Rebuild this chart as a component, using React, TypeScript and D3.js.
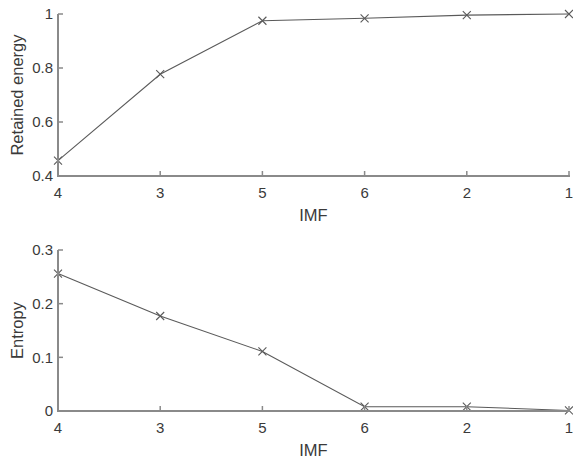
import React from "react";
import * as d3 from "d3";

const imfLabels = ["4", "3", "5", "6", "2", "1"];
const retainedEnergy = [0.457, 0.777, 0.975, 0.984, 0.996, 1.0];
const entropy = [0.256, 0.177, 0.111, 0.008, 0.008, 0.001];
const energyTicks = [0.4, 0.6, 0.8, 1];
const entropyTicks = [0, 0.1, 0.2, 0.3];

const W = 573;
const H = 461;
const FONT = "'Liberation Sans', Arial, Helvetica, sans-serif";
const AXIS = "#8a8a8a";
const TEXT = "#3a3a3a";
const LINE = "#5a5a5a";

type PanelProps = {
  values: number[];
  ticks: number[];
  domain: [number, number];
  top: number;
  bottom: number;
  ylabel: string;
  fmt: (v: number) => string;
};

function Panel({ values, ticks, domain, top, bottom, ylabel, fmt }: PanelProps) {
  const left = 58;
  const right = 569;
  const x = d3.scalePoint<string>().domain(imfLabels).range([left, right]);
  const y = d3.scaleLinear().domain(domain).range([bottom, top]);
  const line = d3
    .line<number>()
    .x((_, i) => x(imfLabels[i]) as number)
    .y((d) => y(d));
  const tl = 5;
  const m = 4;
  return (
    <g>
      <path d={line(values) || ""} fill="none" stroke={LINE} strokeWidth={1.1} />
      {values.map((v, i) => {
        const cx = x(imfLabels[i]) as number;
        const cy = y(v);
        return (
          <path
            key={i}
            d={`M${cx - m},${cy - m}L${cx + m},${cy + m}M${cx - m},${cy + m}L${cx + m},${cy - m}`}
            stroke={LINE}
            strokeWidth={1.1}
          />
        );
      })}
      <line x1={left} x2={left} y1={top} y2={bottom + 1} stroke={AXIS} strokeWidth={2} />
      <line x1={left - 1} x2={right + 1} y1={bottom} y2={bottom} stroke={AXIS} strokeWidth={2} />
      {ticks.map((t) => (
        <g key={t}>
          <line x1={left} x2={left + tl} y1={y(t)} y2={y(t)} stroke={AXIS} strokeWidth={1.5} />
          <text
            x={left - 5}
            y={y(t)}
            dy="0.35em"
            textAnchor="end"
            fontSize={15}
            fontFamily={FONT}
            fill={TEXT}
          >
            {fmt(t)}
          </text>
        </g>
      ))}
      {imfLabels.map((l) => (
        <g key={l}>
          <line
            x1={x(l) as number}
            x2={x(l) as number}
            y1={bottom}
            y2={bottom - tl}
            stroke={AXIS}
            strokeWidth={1.5}
          />
          <text
            x={x(l) as number}
            y={bottom + 22}
            textAnchor="middle"
            fontSize={15}
            fontFamily={FONT}
            fill={TEXT}
          >
            {l}
          </text>
        </g>
      ))}
      <text
        x={(left + right) / 2}
        y={bottom + 45}
        textAnchor="middle"
        fontSize={16.5}
        fontFamily={FONT}
        fill={TEXT}
      >
        IMF
      </text>
      <text
        transform={`translate(${23},${(top + bottom) / 2}) rotate(-90)`}
        textAnchor="middle"
        fontSize={16.5}
        fontFamily={FONT}
        fill={TEXT}
      >
        {ylabel}
      </text>
    </g>
  );
}

export default function App() {
  return (
    <svg
      width={W}
      height={H}
      style={{ position: "absolute", left: 0, top: 0, background: "#fff" }}
    >
      <rect width={W} height={H} fill="#fff" />
      <Panel
        values={retainedEnergy}
        ticks={energyTicks}
        domain={[0.4, 1]}
        top={14}
        bottom={176}
        ylabel="Retained energy"
        fmt={(v) => (v === 1 ? "1" : String(v))}
      />
      <Panel
        values={entropy}
        ticks={entropyTicks}
        domain={[0, 0.3]}
        top={250}
        bottom={411}
        ylabel="Entropy"
        fmt={(v) => (v === 0 ? "0" : String(v))}
      />
    </svg>
  );
}
